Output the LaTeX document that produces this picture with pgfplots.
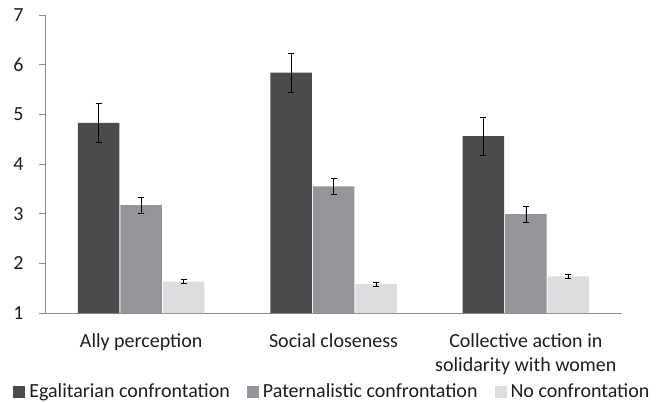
\documentclass[border=0pt]{standalone}
\usepackage{pgfplots}
\pgfplotsset{compat=1.18}
\usepackage{fontspec}
\setmainfont{Carlito}
\definecolor{egal}{HTML}{4A4B4D}
\definecolor{pater}{HTML}{949598}
\definecolor{noconf}{HTML}{DCDDDF}
\definecolor{axisgray}{HTML}{8C8C8C}
\definecolor{txt}{HTML}{1E1E1E}
\begin{document}
\begin{tikzpicture}
\path[use as bounding box] (0,0) rectangle (663pt,402pt);
\begin{axis}[
    at={(45pt,89pt)}, anchor=south west,
    scale only axis,
    width=577pt, height=298pt,
    ybar=1pt, bar width=41.5pt,
    xmin=-0.5, xmax=2.5,
    ymin=1, ymax=7,
    ytick={1,...,7},
    xtick={0,1,2},
    xticklabels={Ally perception, Social closeness, {Collective action in\\solidarity with women}},
    x tick style={draw=none},
    y tick style={axisgray, line width=0.8pt},
    major tick length=6pt,
    tick align=outside,
    axis lines*=left,
    axis line style={axisgray, line width=0.8pt, -},
    ticklabel style={font=\fontsize{20}{24}\selectfont, text=txt},
    yticklabel style={xshift=-12pt},
    xticklabel style={align=center, yshift=-11pt},
    /pgf/number format/assume math mode=true,
    legend style={draw=none, at={(0.498,-0.222)}, anchor=north, legend columns=3,
        font=\fontsize{20}{24}\selectfont, text=txt,
        /tikz/every even column/.append style={column sep=15pt}},
    legend image code/.code={\fill[#1] (0pt,-6.5pt) rectangle (12pt,5.5pt); \path (14pt,0pt);},
    error bars/error bar style={black, line width=0.6pt},
    error bars/error mark options={black, rotate=90, mark size=3pt, line width=0.6pt},
]
\addplot[fill=egal, draw=none, error bars/.cd, y dir=both, y explicit]
  coordinates {(0,4.83) +- (0,0.39) (1,5.84) +- (0,0.39) (2,4.56) +- (0,0.39)};
\addplot[fill=pater, draw=none, error bars/.cd, y dir=both, y explicit]
  coordinates {(0,3.17) +- (0,0.16) (1,3.55) +- (0,0.165) (2,2.99) +- (0,0.16)};
\addplot[fill=noconf, draw=none, error bars/.cd, y dir=both, y explicit]
  coordinates {(0,1.63) +- (0,0.04) (1,1.58) +- (0,0.04) (2,1.74) +- (0,0.04)};
\legend{Egalitarian confrontation, Paternalistic confrontation, No confrontation}
\end{axis}
\end{tikzpicture}
\end{document}
